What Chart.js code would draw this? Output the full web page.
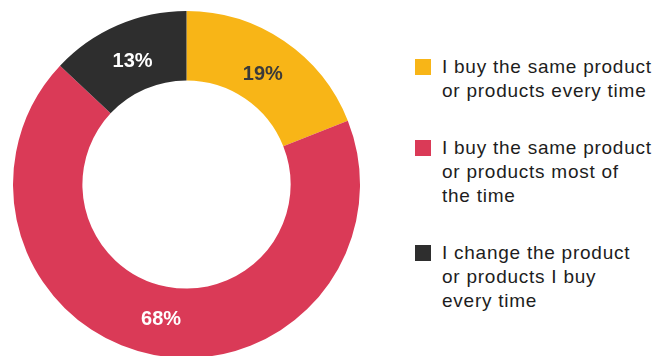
<!DOCTYPE html>
<html>
<head>
<meta charset="utf-8">
<script src="https://cdn.jsdelivr.net/npm/chart.js@4"></script>
<style>
  html, body { margin: 0; padding: 0; background: #fff; overflow: hidden; }
  body { width: 669px; height: 356px; position: relative; font-family: "Liberation Sans", Arial, sans-serif; }
  #wrap { position: absolute; left: 0; top: 11px; width: 373px; height: 347px; }
  #legend { position: absolute; left: 442px; top: 55px; margin: 0; padding: 0; list-style: none; }
  #legend li { position: relative; font-size: 19px; line-height: 24px; letter-spacing: 0.75px; color: #1d1d1d; }
  #legend li + li { margin-top: 33px; }
  #legend .box { position: absolute; left: -27px; top: 4px; width: 16px; height: 16px; }
</style>
</head>
<body>
<div id="wrap"><canvas id="donut"></canvas></div>
<ul id="legend"></ul>
<script>
const labels = [
  ["I buy the same product", "or products every time"],
  ["I buy the same product", "or products most of", "the time"],
  ["I change the product", "or products I buy", "every time"]
];
const shares = [19, 68, 13];
const colors = ["#f8b517", "#da3a57", "#2e2e2e"];
const labelColors = ["#3a3a3a", "#ffffff", "#ffffff"];

// percentage text in the middle of each ring segment
const sliceLabels = {
  id: "sliceLabels",
  afterDatasetsDraw(chart) {
    const ctx = chart.ctx;
    const arcs = chart.getDatasetMeta(0).data;
    ctx.save();
    ctx.font = "bold 20px 'Liberation Sans', Arial, sans-serif";
    ctx.textAlign = "center";
    ctx.textBaseline = "middle";
    arcs.forEach((arc, i) => {
      const p = arc.getProps(["x", "y", "startAngle", "endAngle", "innerRadius", "outerRadius"], true);
      const mid = (p.startAngle + p.endAngle) / 2;
      const r = (p.innerRadius + p.outerRadius) / 2 - 3;
      ctx.fillStyle = labelColors[i];
      ctx.fillText(shares[i] + "%", p.x + Math.cos(mid) * r, p.y + Math.sin(mid) * r + 2);
    });
    ctx.restore();
  }
};

new Chart(document.getElementById("donut"), {
  type: "doughnut",
  data: {
    labels: labels.map(l => l.join(" ")),
    datasets: [{
      data: shares,
      backgroundColor: colors,
      borderWidth: 0
    }]
  },
  options: {
    responsive: true,
    maintainAspectRatio: false,
    animation: false,
    cutout: "60%",
    layout: { padding: 0 },
    plugins: {
      legend: { display: false },
      tooltip: { enabled: false }
    }
  },
  plugins: [sliceLabels]
});

const legend = document.getElementById("legend");
labels.forEach((lines, i) => {
  const li = document.createElement("li");
  const box = document.createElement("span");
  box.className = "box";
  box.style.background = colors[i];
  li.appendChild(box);
  lines.forEach((t, j) => {
    if (j) li.appendChild(document.createElement("br"));
    li.appendChild(document.createTextNode(t));
  });
  legend.appendChild(li);
});
</script>
</body>
</html>
